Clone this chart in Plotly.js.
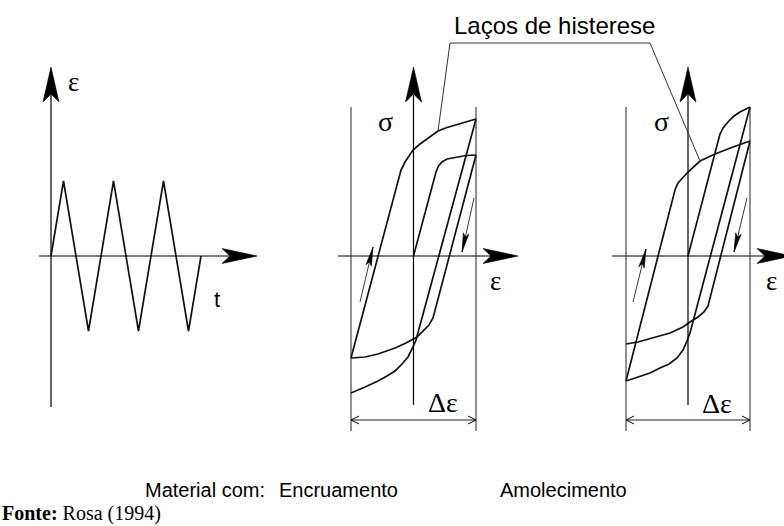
<!DOCTYPE html>
<html>
<head>
<meta charset="utf-8">
<script src="https://cdn.plot.ly/plotly-3.0.1.min.js"></script>
<style>
  html, body { margin: 0; padding: 0; background: #fff; }
  #fig { width: 784px; height: 526px; }
</style>
</head>
<body>
<div id="fig"></div>
<script>
// ---- Strain history (left diagram): time in cycles, strain relative to its amplitude
const tWave   = [0, 0.25, 0.75, 1.25, 1.75, 2.25, 2.75, 3.0];
const epsWave = [0, 1, -1, 1, -1, 1, -1, 0];

// ---- Cyclic hardening (Encruamento): strain relative to the amplitude, stress in arbitrary units
const hardFirstEps  = [0, 0.36, 0.40, 0.456, 0.536, 0.68, 0.84, 1.0];
const hardFirstSig  = [0, 0.84, 0.90, 0.94, 0.97, 0.99, 1.005, 1.01];
const hardComp1Eps  = [1.0, 0.312, 0.248, 0.168, 0.056, -0.12, -0.296, -0.568, -0.776, -1.0];
const hardComp1Sig  = [1.01, -0.62, -0.69, -0.74, -0.81, -0.87, -0.92, -0.98, -1.01, -1.02];
const hardReloadEps = [-1.0, -0.24, -0.2, -0.136, -0.008, 0.104, 0.232, 0.392, 0.536, 0.664, 0.824, 1.0];
const hardReloadSig = [-1.02, 0.79, 0.86, 0.94, 1.06, 1.12, 1.18, 1.25, 1.285, 1.31, 1.34, 1.37];
const hardComp2Eps  = [1.0, 0.072, 0.04, -0.008, -0.088, -0.184, -0.296, -0.424, -0.568, -0.776, -1.0];
const hardComp2Sig  = [1.37, -0.79, -0.84, -0.91, -1.01, -1.08, -1.15, -1.20, -1.25, -1.31, -1.37];

// ---- Cyclic softening (Amolecimento)
const softFirstEps  = [0, 0.484, 0.516, 0.565, 0.645, 0.742, 0.839, 1.0];
const softFirstSig  = [0, 1.16, 1.22, 1.28, 1.34, 1.40, 1.44, 1.49];
const softComp1Eps  = [1.0, 0.032, -0.016, -0.081, -0.177, -0.306, -0.452, -0.613, -0.806, -1.0];
const softComp1Sig  = [1.49, -0.77, -0.85, -0.94, -1.02, -1.08, -1.12, -1.17, -1.21, -1.25];
const softReloadEps = [-1.0, -0.21, -0.161, -0.081, 0.0, 0.194, 0.435, 0.726, 1.0];
const softReloadSig = [-1.25, 0.66, 0.73, 0.79, 0.84, 0.95, 1.02, 1.09, 1.15];
const softComp2Eps  = [1.0, 0.323, 0.258, 0.161, 0.032, -0.081, -0.29, -0.613, -0.806, -1.0];
const softComp2Sig  = [1.15, -0.50, -0.56, -0.61, -0.66, -0.71, -0.77, -0.83, -0.86, -0.88];

// ---- Texts
const labelTitle = 'Laços de histerese';
const labelMaterial = 'Material com:';
const labelHard = 'Encruamento';
const labelSoft = 'Amolecimento';
const labelSource = '<b>Fonte:</b> Rosa (1994)';

// ---- Page geometry (pixels): origin and unit length of each diagram
const W = 784, H = 526;
const P1 = {ox: 51,    oy: 256, ux: 50,   uy: 75};
const P2 = {ox: 413.5, oy: 256, ux: 62.5, uy: 100};
const P3 = {ox: 688,   oy: 256, ux: 62,   uy: 100};
const xRange = p => [-p.ox / p.ux, (W - p.ox) / p.ux];
const yRange = p => [(p.oy - H) / p.uy, p.oy / p.uy];
const pxX = (p, v) => p.ox + v * p.ux;
const pxY = (p, v) => p.oy - v * p.uy;
const X = px => px / W;
const Y = py => 1 - py / H;

const SANS = 'Liberation Sans, Arial, sans-serif';
const SERIF = 'Liberation Serif, Times New Roman, serif';

// ---- Traces
function curve(x, y, xa, ya, w) {
  return {x, y, xaxis: xa, yaxis: ya, type: 'scatter', mode: 'lines',
          line: {color: '#111', width: w, shape: 'linear'}, hoverinfo: 'skip'};
}
const data = [
  curve(tWave, epsWave, 'x', 'y', 1.7),
  curve(hardFirstEps, hardFirstSig, 'x2', 'y2', 1.7),
  curve(hardComp1Eps, hardComp1Sig, 'x2', 'y2', 1.7),
  curve(hardReloadEps, hardReloadSig, 'x2', 'y2', 1.7),
  curve(hardComp2Eps, hardComp2Sig, 'x2', 'y2', 1.7),
  curve(softFirstEps, softFirstSig, 'x3', 'y2', 1.7),
  curve(softComp1Eps, softComp1Sig, 'x3', 'y2', 1.7),
  curve(softReloadEps, softReloadSig, 'x3', 'y2', 1.7),
  curve(softComp2Eps, softComp2Sig, 'x3', 'y2', 1.7)
];

// ---- Decorations: axes, arrowheads, strain-range markers, leader lines
const shapes = [];
function seg(x0, y0, x1, y1, w, c) {
  shapes.push({type: 'line', xref: 'paper', yref: 'paper', layer: 'above',
    x0: X(x0), y0: Y(y0), x1: X(x1), y1: Y(y1), line: {color: c || '#000', width: w || 1.2}});
}
function path(pts, closed, fill, w) {
  const d = 'M' + pts.map(p => X(p[0]).toFixed(5) + ',' + Y(p[1]).toFixed(5)).join('L') + (closed ? 'Z' : '');
  shapes.push({type: 'path', xref: 'paper', yref: 'paper', layer: 'above', path: d,
    fillcolor: fill || 'rgba(0,0,0,0)', line: {color: '#000', width: w}});
}
// filled arrowhead with its tip at (tx, ty), pointing along (dx, dy)
function head(tx, ty, dx, dy, len, hw, notch) {
  const n = Math.hypot(dx, dy); dx /= n; dy /= n;
  const nx = -dy, ny = dx;
  path([[tx, ty],
        [tx - dx * len + nx * hw, ty - dy * len + ny * hw],
        [tx - dx * notch, ty - dy * notch],
        [tx - dx * len - nx * hw, ty - dy * len - ny * hw]], true, '#000', 0.6);
}
function bigUp(x, yTip) { head(x, yTip, 0, -1, 35, 8, 27); }
function bigRight(xTip, y) { head(xTip, y, 1, 0, 35, 7.5, 27); }
function smallArrow(x0, y0, x1, y1) {
  seg(x0, y0, x1, y1, 0.9, '#222');
  head(x1, y1, x1 - x0, y1 - y0, 19, 2.8, 15);
}
function rangeArrow(xa, xb, y) {
  seg(xa, y, xb, y, 1, '#222');
  path([[xa + 8, y - 4], [xa, y], [xa + 8, y + 4]], false, null, 1);
  path([[xb - 8, y - 4], [xb, y], [xb - 8, y + 4]], false, null, 1);
}

// left diagram: strain vs time
seg(P1.ox, 407, P1.ox, 95, 1.2);
seg(39, P1.oy, 235, P1.oy, 1.2);
bigUp(P1.ox, 67);
bigRight(257, P1.oy);

// hysteresis diagrams
[[P2, 338, 505, 518], [P3, 612, 780, 792]].forEach(([p, xl, xr, tip]) => {
  seg(p.ox, 405, p.ox, 95, 1.2);
  seg(xl, p.oy, xr, p.oy, 1.2);
  bigUp(p.ox, 67);
  bigRight(tip, p.oy);
  const l = pxX(p, -1), r = pxX(p, 1);
  seg(l, 107, l, 431, 1, '#222');
  seg(r, 107, r, 431, 1, '#222');
  rangeArrow(l, r, 420);
});
smallArrow(474, 198, 462, 252);
smallArrow(360, 302, 373, 247);
smallArrow(747, 198, 734, 252);
smallArrow(633, 302, 646, 249);

// leader lines from the title to one loop of each diagram
const leftEnd = [pxX(P2, hardReloadEps[7]), pxY(P2, hardReloadSig[7])];
const rightEnd = [pxX(P3, softReloadEps[5]), pxY(P3, softReloadSig[5])];
seg(450, 43, 650, 43, 1, '#333');
seg(450, 43, leftEnd[0], leftEnd[1], 1, '#333');
seg(650, 43, rightEnd[0], rightEnd[1], 1, '#333');

// ---- Texts
function txt(text, x, y, size, family, xanchor) {
  return {text, x: X(x), y: Y(y), xref: 'paper', yref: 'paper', showarrow: false,
    xanchor: xanchor || 'center', yanchor: 'middle', font: {size, family, color: '#000'}};
}
const annotations = [
  txt('ε', 73, 82, 27, SERIF),
  txt('t', 217, 299, 22, SANS),
  txt('σ', 385, 122, 28, SERIF),
  txt('ε', 495, 281, 27, SERIF),
  txt('Δε', 443, 402, 28, SERIF),
  txt('σ', 661, 122, 28, SERIF),
  txt('ε', 771, 281, 27, SERIF),
  txt('Δε', 717, 403, 28, SERIF),
  txt(labelTitle, 554, 26, 24, SANS),
  txt(labelMaterial, 143, 490, 20, SANS, 'left'),
  txt(labelHard, 277, 490, 20, SANS, 'left'),
  txt(labelSoft, 498, 490, 20, SANS, 'left'),
  txt(labelSource, 0, 513, 20, SERIF, 'left')
];

const hidden = {visible: false, fixedrange: true, domain: [0, 1]};
const layout = {
  width: W, height: H,
  margin: {l: 0, r: 0, t: 0, b: 0, pad: 0},
  paper_bgcolor: '#fff', plot_bgcolor: 'rgba(0,0,0,0)',
  showlegend: false,
  xaxis:  Object.assign({}, hidden, {range: xRange(P1)}),
  yaxis:  Object.assign({}, hidden, {range: yRange(P1)}),
  xaxis2: Object.assign({}, hidden, {range: xRange(P2), overlaying: 'x', anchor: 'y2'}),
  yaxis2: Object.assign({}, hidden, {range: yRange(P2), overlaying: 'y', anchor: 'x2'}),
  xaxis3: Object.assign({}, hidden, {range: xRange(P3), overlaying: 'x', anchor: 'y2'}),
  shapes, annotations
};

Plotly.newPlot('fig', data, layout, {staticPlot: true, displayModeBar: false});
</script>
</body>
</html>
